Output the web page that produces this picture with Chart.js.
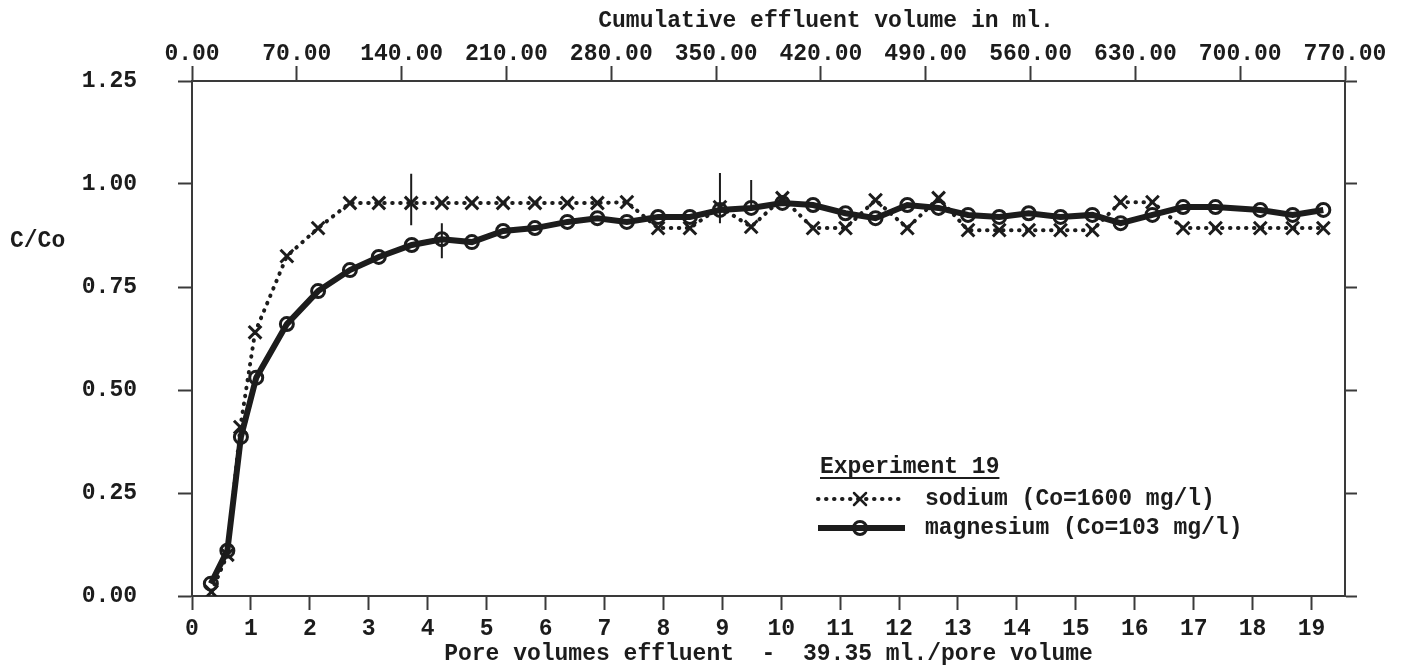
<!DOCTYPE html>
<html>
<head>
<meta charset="utf-8">
<title>Experiment 19 - sodium and magnesium breakthrough</title>
<script src="https://cdn.jsdelivr.net/npm/chart.js@4.4.1/dist/chart.umd.min.js"></script>
<style>
  html, body { margin: 0; padding: 0; background: #fff; }
  canvas { display: block; }
</style>
</head>
<body>
<canvas id="breakthroughChart" width="1410" height="670"></canvas>
<script>
// column pore volume and the range of effluent collected
var mlPerPoreVolume = 39.35;
var maxVolumeMl = 770;

// sodium (Co = 1600 mg/l), C/Co against pore volumes
var sodiumPV = [0.33, 0.6, 0.82, 1.07, 1.61, 2.14, 2.68, 3.17, 3.72, 4.24, 4.75, 5.28, 5.82, 6.37, 6.88, 7.38,
  7.91, 8.45, 8.96, 9.49, 10.02, 10.54, 11.09, 11.6, 12.14, 12.67, 13.17, 13.7, 14.2, 14.74, 15.28, 15.76,
  16.3, 16.82, 17.37, 18.13, 18.68, 19.2];
var sodiumC = [0.01, 0.10, 0.41, 0.64, 0.825, 0.893, 0.954, 0.954, 0.954, 0.954, 0.954, 0.954, 0.954, 0.954, 0.954, 0.956,
  0.893, 0.893, 0.944, 0.896, 0.966, 0.893, 0.893, 0.961, 0.893, 0.966, 0.888, 0.888, 0.888, 0.888, 0.888, 0.956,
  0.956, 0.893, 0.893, 0.893, 0.893, 0.893];

// magnesium (Co = 103 mg/l)
var magnesiumPV = [0.32, 0.6, 0.83, 1.09, 1.61, 2.14, 2.68, 3.17, 3.73, 4.24, 4.75, 5.28, 5.82, 6.37, 6.88, 7.38,
  7.91, 8.45, 8.96, 9.49, 10.02, 10.54, 11.09, 11.6, 12.14, 12.67, 13.17, 13.7, 14.2, 14.74, 15.28, 15.76,
  16.3, 16.82, 17.37, 18.13, 18.68, 19.2];
var magnesiumC = [0.03, 0.11, 0.386, 0.53, 0.66, 0.74, 0.791, 0.823, 0.852, 0.866, 0.859, 0.886, 0.893, 0.908, 0.917, 0.908,
  0.92, 0.92, 0.937, 0.942, 0.954, 0.949, 0.929, 0.917, 0.949, 0.942, 0.925, 0.92, 0.929, 0.92, 0.925, 0.905,
  0.925, 0.944, 0.944, 0.937, 0.925, 0.937];

// replicate spread, drawn as plain vertical bars
var spreadPV = [3.72, 4.24, 8.96, 9.49];
var spreadLow = [0.90, 0.82, 0.905, 0.937];
var spreadHigh = [1.025, 0.905, 1.027, 1.01];

var ink = '#1c1c1c';
var axisInk = '#3a3a3a';
var monoFont = { family: "'Liberation Mono', 'DejaVu Sans Mono', monospace", size: 23, weight: 'bold' };

Chart.defaults.font.family = monoFont.family;
Chart.defaults.font.size = monoFont.size;
Chart.defaults.font.weight = monoFont.weight;
Chart.defaults.color = ink;

function toPoints(xs, ys) {
  return xs.map(function (x, i) { return { x: x, y: ys[i] }; });
}

var spreadPoints = [];
spreadPV.forEach(function (x, i) {
  spreadPoints.push({ x: x, y: spreadLow[i] });
  spreadPoints.push({ x: x, y: spreadHigh[i] });
  spreadPoints.push({ x: x, y: null });
});

function axisGrid(len) {
  return { drawOnChartArea: false, tickLength: len, tickColor: axisInk, tickWidth: 2 };
}
var axisBorder = { display: true, color: axisInk, width: 2 };

// free text: top title, C/Co and the legend block
var extraText = {
  id: 'extraText',
  afterDraw: function (chart) {
    var ctx = chart.ctx;
    ctx.save();
    ctx.fillStyle = ink;
    ctx.strokeStyle = ink;
    ctx.font = 'bold ' + monoFont.size + 'px ' + monoFont.family;
    ctx.textBaseline = 'middle';

    ctx.textAlign = 'center';
    ctx.fillText('Cumulative effluent volume in ml.', 826, 21);

    ctx.textAlign = 'left';
    ctx.fillText('C/Co', 10, 241);

    // legend
    var lx = 820;
    ctx.fillText('Experiment 19', lx, 467);
    var w = ctx.measureText('Experiment 19').width;
    ctx.lineWidth = 2;
    ctx.beginPath();
    ctx.moveTo(lx, 478);
    ctx.lineTo(lx + w, 478);
    ctx.stroke();

    // sodium sample
    ctx.lineWidth = 4;
    ctx.lineCap = 'round';
    ctx.setLineDash([0.5, 7.5]);
    ctx.beginPath();
    ctx.moveTo(818, 499);
    ctx.lineTo(902, 499);
    ctx.stroke();
    ctx.setLineDash([]);
    ctx.lineWidth = 2.5;
    ctx.beginPath();
    ctx.moveTo(854, 493); ctx.lineTo(866, 505);
    ctx.moveTo(866, 493); ctx.lineTo(854, 505);
    ctx.stroke();

    // magnesium sample
    ctx.lineWidth = 6;
    ctx.lineCap = 'butt';
    ctx.beginPath();
    ctx.moveTo(818, 528);
    ctx.lineTo(905, 528);
    ctx.stroke();
    ctx.lineWidth = 3;
    ctx.beginPath();
    ctx.arc(860, 528, 6.5, 0, Math.PI * 2);
    ctx.stroke();

    ctx.fillText('sodium (Co=1600 mg/l)', 925, 499);
    ctx.fillText('magnesium (Co=103 mg/l)', 925, 528);
    ctx.restore();
  }
};

var ctx = document.getElementById('breakthroughChart').getContext('2d');
var breakthroughChart = new Chart(ctx, {
  type: 'line',
  data: {
    datasets: [{
      label: 'sodium (Co=1600 mg/l)',
      data: toPoints(sodiumPV, sodiumC),
      borderColor: ink,
      borderWidth: 4,
      borderDash: [0.5, 7.5],
      borderCapStyle: 'round',
      pointStyle: 'crossRot',
      pointRadius: 9,
      pointBorderWidth: 3,
      pointBorderColor: ink,
      tension: 0
    }, {
      label: 'magnesium (Co=103 mg/l)',
      data: toPoints(magnesiumPV, magnesiumC),
      borderColor: ink,
      borderWidth: 6,
      pointStyle: 'circle',
      pointRadius: 6.5,
      pointBorderWidth: 3,
      pointBorderColor: ink,
      pointBackgroundColor: 'rgba(255,255,255,0)',
      tension: 0
    }, {
      label: 'spread',
      data: spreadPoints,
      borderColor: ink,
      borderWidth: 2,
      pointRadius: 0,
      spanGaps: false
    }]
  },
  options: {
    responsive: false,
    animation: false,
    layout: { padding: 0, autoPadding: false },
    plugins: {
      legend: { display: false },
      tooltip: { enabled: false }
    },
    scales: {
      x: {
        type: 'linear',
        position: 'bottom',
        min: 0,
        max: maxVolumeMl / mlPerPoreVolume,
        afterFit: function (s) { s.height = 74; },
        ticks: { stepSize: 1, includeBounds: false, padding: 5, maxRotation: 0, autoSkip: false },
        grid: axisGrid(14),
        border: axisBorder,
        title: {
          display: true,
          text: 'Pore volumes effluent  -  ' + mlPerPoreVolume.toFixed(2) + ' ml./pore volume',
          padding: { top: 0, bottom: 2 }
        }
      },
      volume: {
        type: 'linear',
        position: 'top',
        min: 0,
        max: maxVolumeMl,
        afterFit: function (s) { s.height = 81; },
        ticks: {
          stepSize: 70, includeBounds: false, padding: -2, maxRotation: 0, autoSkip: false,
          callback: function (v) { return v.toFixed(2); }
        },
        grid: axisGrid(15),
        border: axisBorder
      },
      y: {
        min: 0,
        max: 1.25,
        afterFit: function (s) { s.width = 192; },
        ticks: {
          stepSize: 0.25, padding: 41,
          callback: function (v) { return v.toFixed(2); }
        },
        grid: axisGrid(14),
        border: axisBorder
      },
      yRight: {
        position: 'right',
        min: 0,
        max: 1.25,
        afterFit: function (s) { s.width = 65; },
        ticks: { stepSize: 0.25, display: false },
        grid: axisGrid(12),
        border: axisBorder
      }
    }
  },
  plugins: [extraText]
});
</script>
</body>
</html>
